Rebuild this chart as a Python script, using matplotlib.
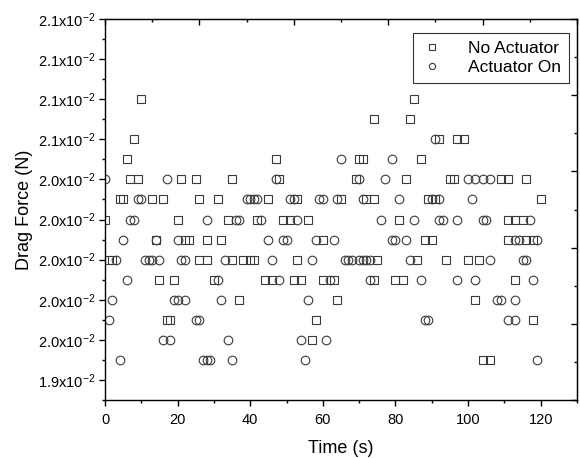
import numpy as np
import matplotlib
matplotlib.use("Agg")
import matplotlib.pyplot as plt
from matplotlib.ticker import FixedLocator, FuncFormatter

plt.rcParams['font.family'] = ['Liberation Sans', 'DejaVu Sans']
plt.rcParams['mathtext.fontset'] = 'custom'
plt.rcParams['mathtext.rm'] = 'Liberation Sans'
plt.rcParams['mathtext.it'] = 'Liberation Sans:italic'

# ---- data ----
noact_time = [0, 1, 2, 4, 5, 6, 7, 8, 9, 10, 13, 14, 15, 16, 17, 18, 19, 20, 21, 22,
              23, 25, 26, 26, 28, 28, 30, 31, 32, 34, 35, 35, 37, 38, 40, 41, 42, 44,
              45, 46, 47, 48, 49, 51, 52, 53, 53, 54, 56, 57, 58, 60, 60, 63, 64, 65,
              69, 70, 71, 72, 74, 74, 75, 74, 80, 82, 81, 83, 84, 85, 86, 87, 88, 90,
              89, 91, 92, 94, 95, 96, 97, 99, 100, 103, 102, 104, 106, 109, 111, 116,
              120, 111, 113, 115, 111, 116, 118, 113, 118]
noact_force = [0.0202, 0.0200, 0.0200, 0.0203, 0.0203, 0.0205, 0.0204, 0.0206, 0.0204,
               0.0208, 0.0203, 0.0201, 0.0199, 0.0203, 0.0197, 0.0197, 0.0199, 0.0202,
               0.0204, 0.0201, 0.0201, 0.0204, 0.0203, 0.0200, 0.0201, 0.0200, 0.0199,
               0.0203, 0.0201, 0.0202, 0.0204, 0.0200, 0.0198, 0.0200, 0.0200, 0.0200,
               0.0202, 0.0199, 0.0203, 0.0199, 0.0205, 0.0204, 0.0202, 0.0202, 0.0199,
               0.0200, 0.0203, 0.0199, 0.0202, 0.0196, 0.0197, 0.0201, 0.0199, 0.0199,
               0.0198, 0.0203, 0.0204, 0.0205, 0.0205, 0.0203, 0.0203, 0.0207, 0.0200,
               0.0199, 0.0199, 0.0199, 0.0202, 0.0204, 0.0207, 0.0208, 0.0200, 0.0205,
               0.0201, 0.0201, 0.0203, 0.0203, 0.0206, 0.0200, 0.0204, 0.0204, 0.0206,
               0.0206, 0.0200, 0.0200, 0.0198, 0.0195, 0.0195, 0.0204, 0.0204, 0.0204,
               0.0203, 0.0202, 0.0202, 0.0202, 0.0201, 0.0201, 0.0201, 0.0199, 0.0197]

acton_time = [0, 1, 2, 3, 4, 5, 6, 7, 8, 9, 10, 11, 12, 13, 14, 15, 16, 17, 18, 19, 20,
              20, 21, 22, 22, 25, 26, 27, 28, 29, 28, 31, 32, 33, 34, 35, 36, 37, 39,
              40, 41, 42, 43, 45, 46, 47, 49, 50, 48, 51, 52, 53, 54, 55, 56, 57, 58,
              59, 60, 61, 62, 63, 64, 65, 66, 67, 68, 70, 71, 72, 73, 70, 71, 73, 76,
              77, 79, 79, 80, 81, 83, 84, 85, 87, 88, 89, 90, 92, 91, 92, 93, 97, 97,
              100, 102, 104, 106, 101, 102, 104, 105, 106, 108, 109, 111, 113, 113,
              113, 114, 115, 116, 117, 118, 119, 119]
acton_force = [0.0204, 0.0197, 0.0198, 0.0200, 0.0195, 0.0201, 0.0199, 0.0202, 0.0202,
               0.0203, 0.0203, 0.0200, 0.0200, 0.0200, 0.0201, 0.0200, 0.0196, 0.0204,
               0.0196, 0.0198, 0.0201, 0.0198, 0.0200, 0.0200, 0.0198, 0.0197, 0.0197,
               0.0195, 0.0195, 0.0195, 0.0202, 0.0199, 0.0198, 0.0200, 0.0196, 0.0195,
               0.0202, 0.0202, 0.0203, 0.0203, 0.0203, 0.0203, 0.0202, 0.0201, 0.0200,
               0.0204, 0.0201, 0.0201, 0.0199, 0.0203, 0.0203, 0.0202, 0.0196, 0.0195,
               0.0198, 0.0200, 0.0201, 0.0203, 0.0203, 0.0196, 0.0199, 0.0201, 0.0203,
               0.0205, 0.0200, 0.0200, 0.0200, 0.0200, 0.0200, 0.0200, 0.0200, 0.0204,
               0.0203, 0.0199, 0.0202, 0.0204, 0.0205, 0.0201, 0.0201, 0.0203, 0.0201,
               0.0200, 0.0202, 0.0199, 0.0197, 0.0197, 0.0203, 0.0203, 0.0206, 0.0202,
               0.0202, 0.0202, 0.0199, 0.0204, 0.0204, 0.0204, 0.0204, 0.0203, 0.0199,
               0.0202, 0.0202, 0.0200, 0.0198, 0.0198, 0.0197, 0.0197, 0.0198, 0.0201,
               0.0201, 0.0200, 0.0200, 0.0202, 0.0199, 0.0201, 0.0195]

series_labels = ["No Actuator", "Actuator On"]
x_label = "Time (s)"
y_label = "Drag Force (N)"

# ---- figure ----
fig = plt.figure(figsize=(5.8, 4.58), dpi=100)
ax = fig.add_axes([105/580, 1 - 400/458, 472/580, 381/458])

edge = '#3a3a3a'
ax.plot(noact_time, noact_force, linestyle='none', marker='s', markersize=5.2,
        markerfacecolor='none', markeredgecolor=edge, markeredgewidth=0.8,
        label=series_labels[0])
ax.plot(acton_time, acton_force, linestyle='none', marker='o', markersize=6.2,
        markerfacecolor='none', markeredgecolor=edge, markeredgewidth=0.8,
        label=series_labels[1])

xmin, xmax = 0, 130
ymin, ymax = 0.0193, 0.0212
ax.set_xlim(xmin, xmax)
ax.set_ylim(ymin, ymax)

ax.xaxis.set_major_locator(FixedLocator(np.arange(0, 121, 20)))
ax.xaxis.set_minor_locator(FixedLocator(np.arange(10, 131, 20)))
yt = np.round(np.arange(194, 213, 2) * 1e-4, 6)
ytm = np.round(np.arange(193, 213, 2) * 1e-4, 6)
ax.yaxis.set_major_locator(FixedLocator(yt))
ax.yaxis.set_minor_locator(FixedLocator(ytm))
ax.yaxis.set_major_formatter(FuncFormatter(lambda v, p: f"{v*100:.1f}x10$^{{-2}}$"))

for s in ax.spines.values():
    s.set_linewidth(1.0)
ax.tick_params(axis='both', which='major', direction='out', length=4, width=1.0,
               labelsize=10.5, pad=3, top=False, right=False)
ax.tick_params(axis='both', which='minor', direction='out', length=2.2, width=1.0,
               top=False, right=False)
ax.tick_params(axis='x', which='major', pad=5)

# mirrored top/right axes with their own 10-division ticks pointing inward
top = ax.secondary_xaxis('top')
tx = np.linspace(xmin, xmax, 11)
top.xaxis.set_major_locator(FixedLocator(tx[::2]))
top.xaxis.set_minor_locator(FixedLocator(tx[1::2]))
top.tick_params(which='major', direction='in', length=4, width=1.0, labeltop=False)
top.tick_params(which='minor', direction='in', length=2.2, width=1.0)
right = ax.secondary_yaxis('right')
ty = np.linspace(ymin, ymax, 11)
right.yaxis.set_major_locator(FixedLocator(ty[::2]))
right.yaxis.set_minor_locator(FixedLocator(ty[1::2]))
right.tick_params(which='major', direction='in', length=4, width=1.0, labelright=False)
right.tick_params(which='minor', direction='in', length=2.2, width=1.0)

ax.set_xlabel(x_label, fontsize=13, labelpad=10)
ax.set_ylabel(y_label, fontsize=13, labelpad=4)

leg = ax.legend(loc='upper right', bbox_to_anchor=(0.983, 0.962), fontsize=12.5,
                frameon=True, fancybox=False, markerscale=0.72, handlelength=1.2,
                handletextpad=1.5, borderpad=0.45, labelspacing=0.2,
                borderaxespad=0.0)
leg.get_frame().set_edgecolor('black')
leg.get_frame().set_linewidth(0.8)

fig.savefig("out.png", dpi=100)
